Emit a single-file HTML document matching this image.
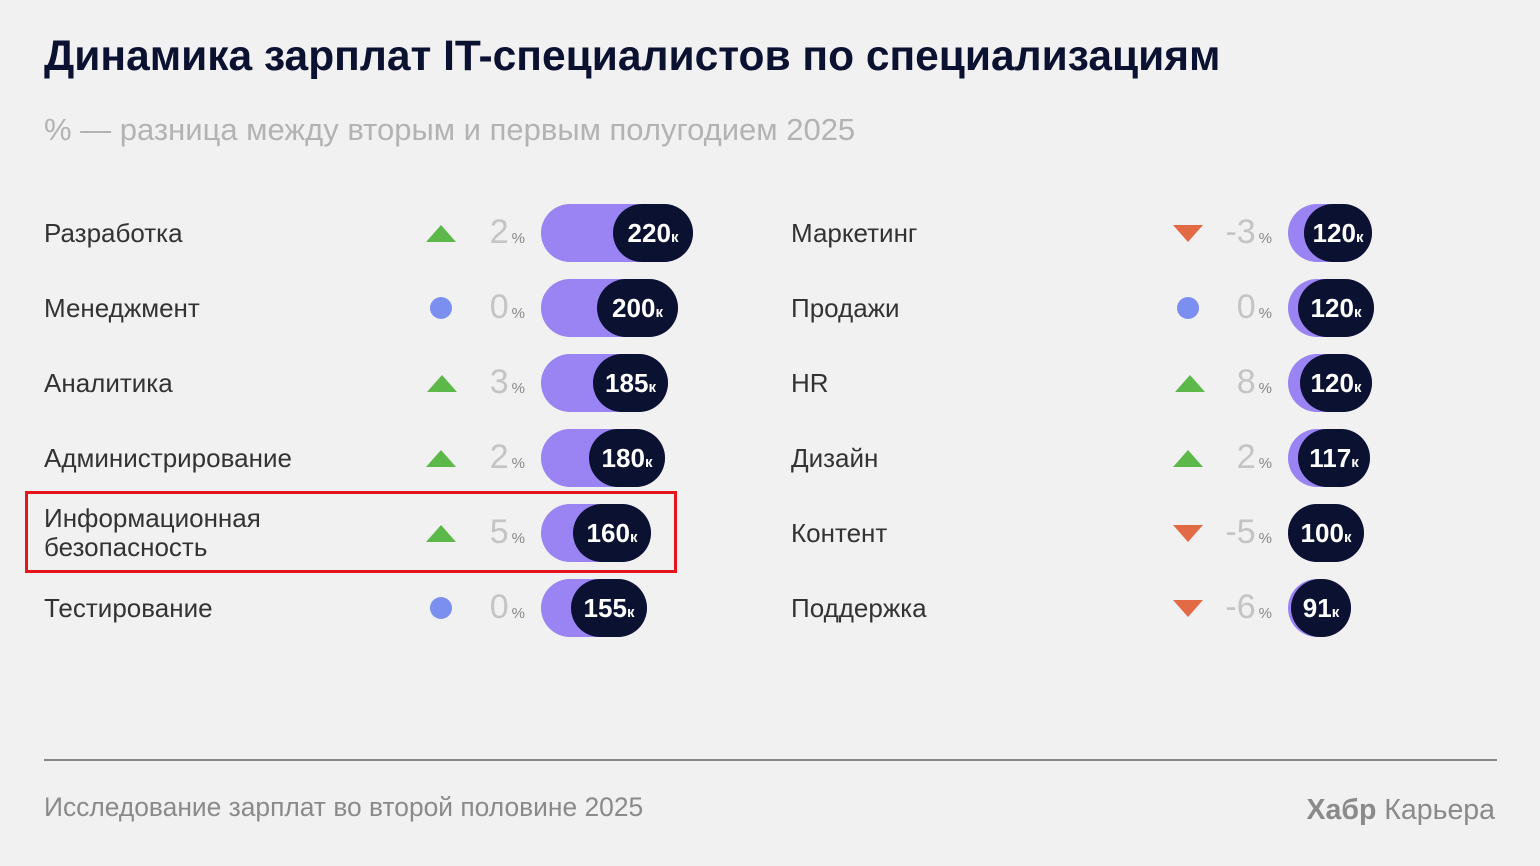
<!DOCTYPE html>
<html><head><meta charset="utf-8"><style>
body{margin:0;width:1540px;height:866px;background:#f1f1f1;font-family:"Liberation Sans",sans-serif;position:relative;overflow:hidden}
.a{position:absolute;white-space:nowrap}
.t{left:44px;top:33px;font-size:42.5px;font-weight:bold;color:#0b1130}
.s{left:44px;top:112px;font-size:31px;color:#b3b3b3}
.l{font-size:26px;color:#333;line-height:29px}
.p{font-size:34px;color:#c4c4c4;text-align:right;width:75px}
.p small{font-size:15px;color:#888;margin-left:3px}
.bar{position:absolute;height:58px;border-radius:29px;background:#9a83f2}
.dk{position:absolute;right:0;top:0;height:58px;border-radius:29px;background:#0b1130;color:#fff;font-weight:bold;font-size:26px;line-height:58px;text-align:center}
.dk small{font-size:15px}
.up{width:0;height:0;border-left:15px solid transparent;border-right:15px solid transparent;border-bottom:17px solid #5db84a}
.dn{width:0;height:0;border-left:15px solid transparent;border-right:15px solid transparent;border-top:17px solid #e26a45}
.dot{width:22px;height:22px;border-radius:50%;background:#7b8ff0}
</style></head><body>
<div class="a t">Динамика зарплат IT-специалистов по специализациям</div>
<div class="a s">% — разница между вторым и первым полугодием 2025</div>

<div class="a l" style="left:44px;top:219px">Разработка</div>
<div class="a up" style="left:426px;top:225px"></div>
<div class="a p" style="left:450px;top:213px">2<small>%</small></div>
<div class="bar" style="left:541px;top:204px;width:152px"><div class="dk" style="width:80px">220<small>к</small></div></div>

<div class="a l" style="left:44px;top:294px">Менеджмент</div>
<div class="a dot" style="left:430px;top:297px"></div>
<div class="a p" style="left:450px;top:288px">0<small>%</small></div>
<div class="bar" style="left:541px;top:279px;width:137px"><div class="dk" style="width:81px">200<small>к</small></div></div>

<div class="a l" style="left:44px;top:369px">Аналитика</div>
<div class="a up" style="left:427px;top:375px"></div>
<div class="a p" style="left:450px;top:363px">3<small>%</small></div>
<div class="bar" style="left:541px;top:354px;width:127px"><div class="dk" style="width:75px">185<small>к</small></div></div>

<div class="a l" style="left:44px;top:444px">Администрирование</div>
<div class="a up" style="left:426px;top:450px"></div>
<div class="a p" style="left:450px;top:438px">2<small>%</small></div>
<div class="bar" style="left:541px;top:429px;width:124px"><div class="dk" style="width:76px">180<small>к</small></div></div>

<div class="a l" style="left:44px;top:504px">Информационная<br>безопасность</div>
<div class="a up" style="left:426px;top:525px"></div>
<div class="a p" style="left:450px;top:513px">5<small>%</small></div>
<div class="bar" style="left:541px;top:504px;width:110px"><div class="dk" style="width:78px">160<small>к</small></div></div>
<div class="a" style="left:25px;top:491px;width:646px;height:76px;border:3px solid #e8141b"></div>

<div class="a l" style="left:44px;top:594px">Тестирование</div>
<div class="a dot" style="left:430px;top:597px"></div>
<div class="a p" style="left:450px;top:588px">0<small>%</small></div>
<div class="bar" style="left:541px;top:579px;width:106px"><div class="dk" style="width:76px">155<small>к</small></div></div>

<div class="a l" style="left:791px;top:219px">Маркетинг</div>
<div class="a dn" style="left:1173px;top:225px"></div>
<div class="a p" style="left:1197px;top:213px">-3<small>%</small></div>
<div class="bar" style="left:1288px;top:204px;width:84px"><div class="dk" style="width:68px">120<small>к</small></div></div>

<div class="a l" style="left:791px;top:294px">Продажи</div>
<div class="a dot" style="left:1177px;top:297px"></div>
<div class="a p" style="left:1197px;top:288px">0<small>%</small></div>
<div class="bar" style="left:1288px;top:279px;width:86px"><div class="dk" style="width:76px">120<small>к</small></div></div>

<div class="a l" style="left:791px;top:369px">HR</div>
<div class="a up" style="left:1175px;top:375px"></div>
<div class="a p" style="left:1197px;top:363px">8<small>%</small></div>
<div class="bar" style="left:1288px;top:354px;width:84px"><div class="dk" style="width:72px">120<small>к</small></div></div>

<div class="a l" style="left:791px;top:444px">Дизайн</div>
<div class="a up" style="left:1173px;top:450px"></div>
<div class="a p" style="left:1197px;top:438px">2<small>%</small></div>
<div class="bar" style="left:1288px;top:429px;width:82px"><div class="dk" style="width:72px">117<small>к</small></div></div>

<div class="a l" style="left:791px;top:519px">Контент</div>
<div class="a dn" style="left:1173px;top:525px"></div>
<div class="a p" style="left:1197px;top:513px">-5<small>%</small></div>
<div class="bar" style="left:1288px;top:504px;width:76px"><div class="dk" style="width:76px">100<small>к</small></div></div>

<div class="a l" style="left:791px;top:594px">Поддержка</div>
<div class="a dn" style="left:1173px;top:600px"></div>
<div class="a p" style="left:1197px;top:588px">-6<small>%</small></div>
<div class="bar" style="left:1288px;top:579px;width:63px"><div class="dk" style="width:60px">91<small>к</small></div></div>

<div class="a" style="left:44px;top:759px;width:1453px;height:2px;background:#888"></div>
<div class="a" style="left:44px;top:792px;font-size:26.4px;color:#8a8a8a">Исследование зарплат во второй половине 2025</div>
<div class="a" style="right:45px;top:794px;font-size:28.5px;color:#8a8a8a"><b>Хабр</b> Карьера</div>
</body></html>
